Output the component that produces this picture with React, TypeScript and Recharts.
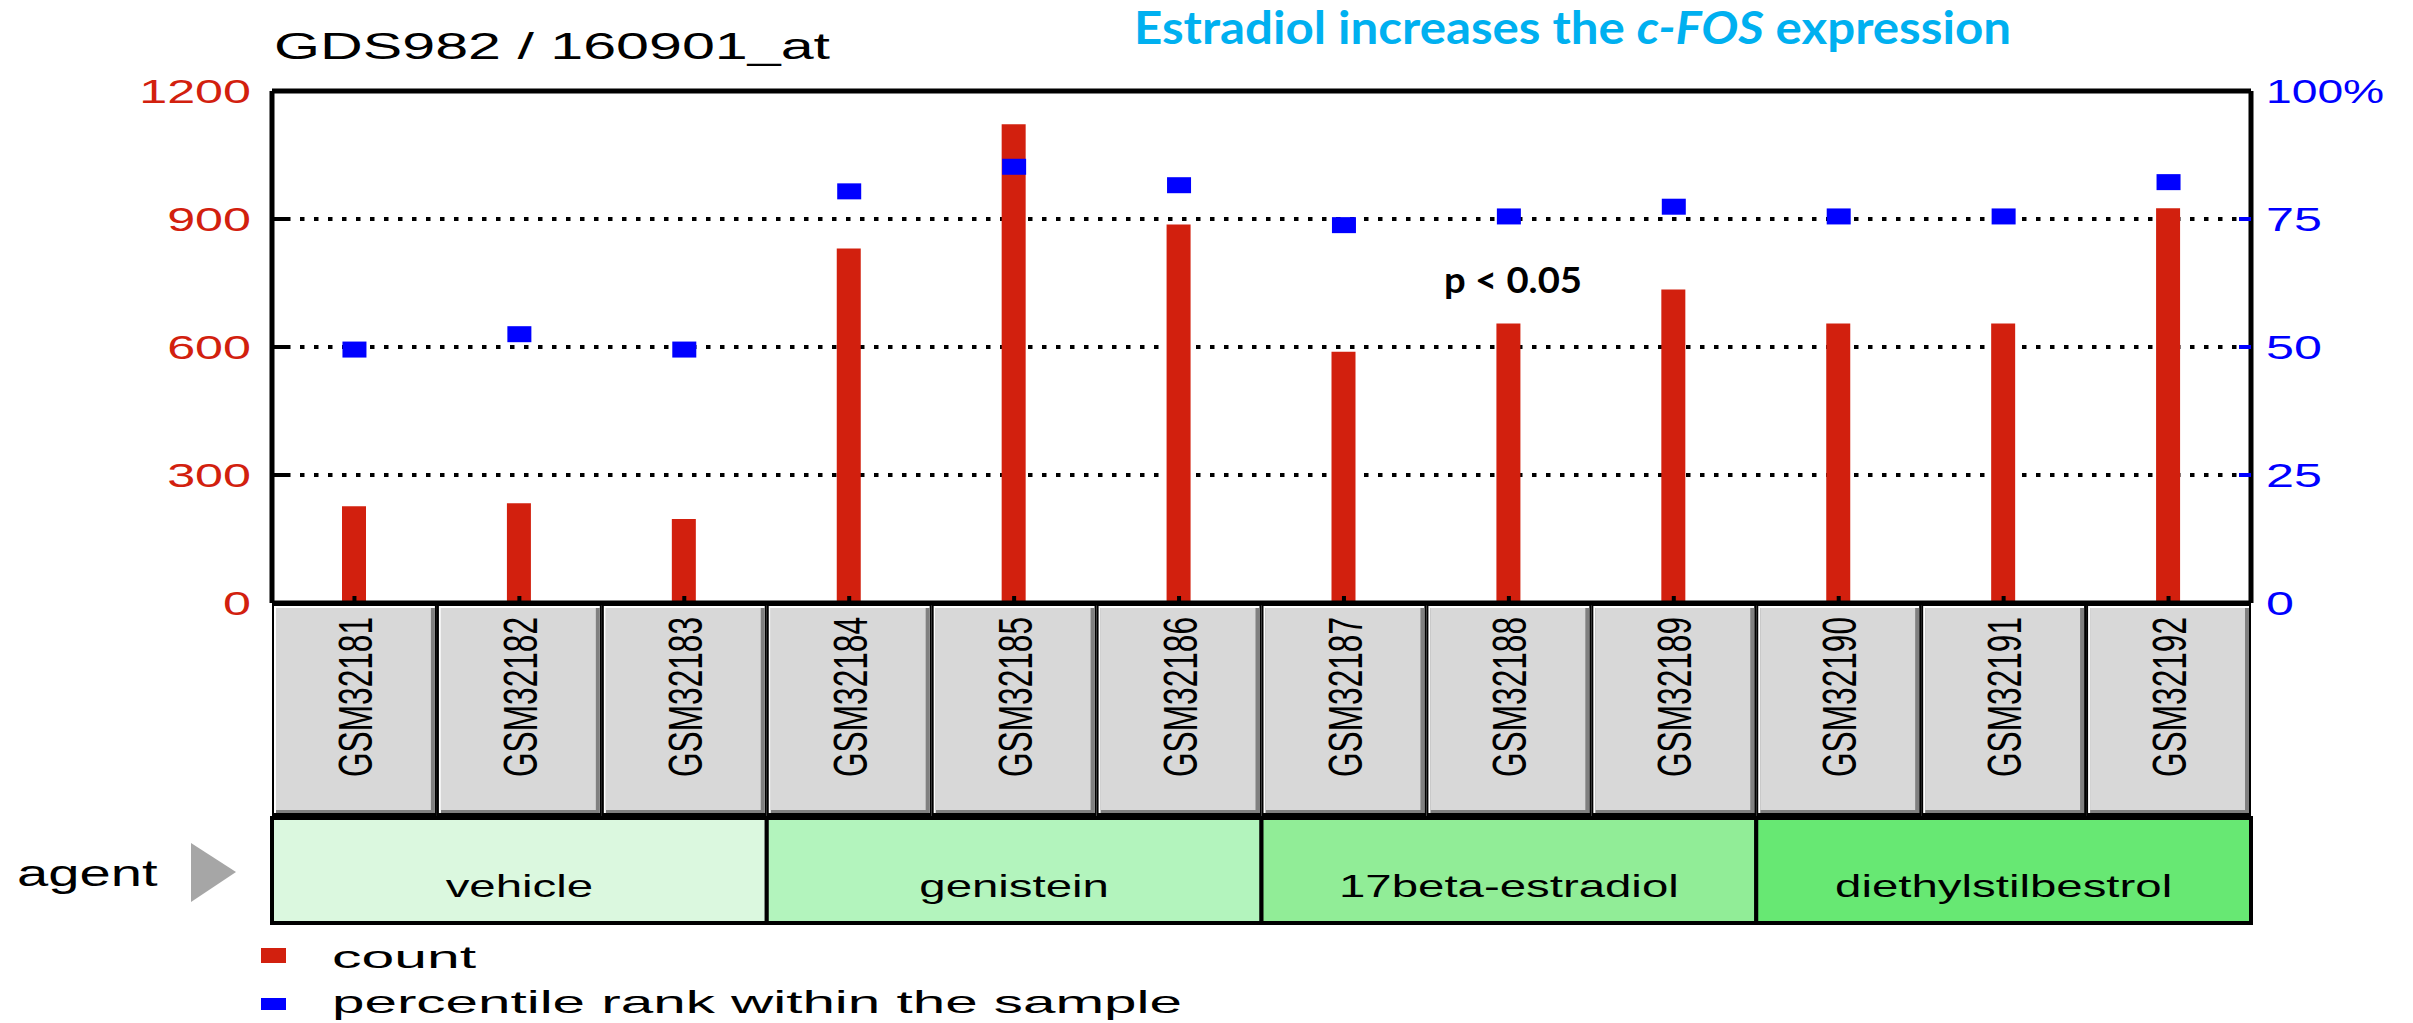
import React from 'react';
import { ComposedChart, Bar, Scatter, XAxis, YAxis, CartesianGrid, Legend, ReferenceLine } from 'recharts';

// ---------- data ----------
const samples = ['GSM32181', 'GSM32182', 'GSM32183', 'GSM32184', 'GSM32185', 'GSM32186', 'GSM32187', 'GSM32188', 'GSM32189', 'GSM32190', 'GSM32191', 'GSM32192'];
const agents = ['vehicle', 'vehicle', 'vehicle', 'genistein', 'genistein', 'genistein', '17beta-estradiol', '17beta-estradiol', '17beta-estradiol', 'diethylstilbestrol', 'diethylstilbestrol', 'diethylstilbestrol'];
const counts = [227, 234, 197, 831, 1122, 887, 589, 655, 735, 655, 655, 925];
const percentiles = [49.5, 52.5, 49.5, 80.4, 85.2, 81.6, 73.8, 75.5, 77.4, 75.5, 75.5, 82.2];
const countTicks = [0, 300, 600, 900, 1200];
const percentTicks = [0, 25, 50, 75, 100];
const agentNames = ['vehicle', 'genistein', '17beta-estradiol', 'diethylstilbestrol'];
const agentFills = ['#dbf8df', '#b3f4bd', '#91ed97', '#67e873'];
const chartTitle = 'GDS982 / 160901_at';
const headline = ['Estradiol increases the ', 'c-FOS', ' expression'];
const pNote = 'p < 0.05';
const agentLabel = 'agent';

const data = samples.map((sample, i) => ({
  sample,
  agent: agents[i],
  count: counts[i],
  percentile: percentiles[i],
}));

// ---------- style ----------
const W = 2413;
const H = 1023;
const RED = '#d2200e';
const BLUE = '#0000ff';
const PIX = '"Liberation Sans", Arial, sans-serif';
const SANS = 'Lato, "Open Sans", sans-serif';

function SText(props: any) {
  const { x, y, sx = 1.5, size, fill = '#000', anchor = 'start', rotate = false, dy, weight, family = PIX, length, children } = props;
  return (
    <text
      transform={`translate(${x},${y}) scale(${sx},1)${rotate ? ' rotate(-90)' : ''}`}
      x={0}
      y={0}
      dy={dy}
      textAnchor={anchor}
      fontSize={size}
      fill={fill}
      fontFamily={family}
      fontWeight={weight}
      textLength={length}
      lengthAdjust={length ? 'spacingAndGlyphs' : undefined}
    >
      {children}
    </text>
  );
}

const CountTick = (props: any) => {
  const { x, y, payload } = props;
  const v = payload.value;
  return (
    <g>
      {v > 0 && v < 1200 && <line x1={x} x2={x + 18} y1={y} y2={y} stroke="#000" strokeWidth={4} />}
      <SText x={x - 21} y={y} anchor="end" dy="0.36em" size={33.5} fill={RED}>
        {String(v)}
      </SText>
    </g>
  );
};

const PercentTick = (props: any) => {
  const { x, y, payload } = props;
  const v = payload.value;
  return (
    <g>
      {v > 0 && v < 100 && <line x1={x - 12} x2={x} y1={y} y2={y} stroke={BLUE} strokeWidth={4} />}
      <SText x={x + 15} y={y} anchor="start" dy="0.36em" size={33.5} fill={BLUE} sx={v === 100 ? 1.38 : 1.5}>
        {v === 100 ? '100%' : String(v)}
      </SText>
    </g>
  );
};

const SampleTick = (props: any) => {
  const { x, y, payload, width } = props;
  const band = payload && payload.offset > 0 ? payload.offset * 2 : width / samples.length;
  const h = 213;
  const l = x - band / 2;
  const t = y;
  return (
    <g>
      <rect x={l} y={t} width={band} height={h} fill="#000" />
      <rect x={l + 2} y={t + 3} width={band - 4} height={h - 6} fill="#fff" />
      <rect x={l + 4} y={t + 5} width={band - 6} height={h - 8} fill="#808080" />
      <rect x={l + 4} y={t + 5} width={band - 10} height={h - 11} fill="#d8d8d8" />
      <rect x={x - 2} y={t - 7} width={4} height={7} fill="#000" />
      <SText x={x} y={t + 174} rotate anchor="start" dy="0.36em" size={31.3} sx={1.56} length={160}>
        {payload.value}
      </SText>
    </g>
  );
};

const AgentTick = (props: any) => {
  const { x, y, payload, width } = props;
  const band = payload && payload.offset > 0 ? payload.offset * 2 : width / agentNames.length;
  const idx = agentNames.indexOf(payload.value);
  return (
    <g>
      <rect x={x - band / 2} y={y + 2} width={band} height={105} fill={agentFills[idx]} stroke="#000" strokeWidth={4} />
      <SText x={x} y={y + 81} anchor="middle" size={31.6} sx={1.5}>
        {payload.value}
      </SText>
    </g>
  );
};

const PercentSquare = (props: any) => {
  const { cx, cy } = props;
  return <rect x={cx - 12} y={cy - 8} width={24} height={16} fill={BLUE} />;
};

const legendLengths = [144, 850];

const renderLegend = (props: any) => {
  const payload = props.payload || [];
  return (
    <svg width={1300} height={98} style={{ display: 'block', overflow: 'visible' }}>
      {payload.map((e: any, i: number) => (
        <g key={i}>
          <rect x={261} y={i === 0 ? 23 : 73} width={25} height={i === 0 ? 15 : 12} fill={e.color} />
          <SText x={332} y={i === 0 ? 43 : 88} size={31.6} sx={1} length={legendLengths[i]}>
            {e.value}
          </SText>
        </g>
      ))}
    </svg>
  );
};

export default function App() {
  return (
    <div style={{ position: 'absolute', left: 0, top: 0, width: W, height: H, background: '#fff' }}>
      <ComposedChart
        width={W}
        height={H}
        data={data}
        margin={{ top: 91, right: 0, bottom: 98, left: 0 }}
      >
        <CartesianGrid
          yAxisId="count"
          vertical={false}
          stroke="#000"
          strokeWidth={4}
          strokeDasharray="4.5 9.5"
        />
        <XAxis
          dataKey="sample"
          interval={0}
          height={213}
          tickSize={0}
          tickMargin={0}
          tickLine={false}
          axisLine={{ stroke: '#000', strokeWidth: 5 }}
          tick={(p: any) => <SampleTick {...p} />}
        />
        <XAxis
          xAxisId="agent"
          dataKey="agent"
          allowDuplicatedCategory={false}
          interval={0}
          height={109}
          tickSize={0}
          tickMargin={0}
          tickLine={false}
          axisLine={false}
          tick={(p: any) => <AgentTick {...p} />}
        />
        <YAxis
          yAxisId="count"
          orientation="left"
          width={272}
          domain={[0, 1200]}
          ticks={countTicks}
          interval={0}
          tickSize={0}
          tickMargin={0}
          tickLine={false}
          axisLine={{ stroke: '#000', strokeWidth: 5 }}
          tick={(p: any) => <CountTick {...p} />}
        />
        <YAxis
          yAxisId="pct"
          orientation="right"
          width={162}
          domain={[0, 100]}
          ticks={percentTicks}
          interval={0}
          tickSize={0}
          tickMargin={0}
          tickLine={false}
          axisLine={{ stroke: '#000', strokeWidth: 5 }}
          tick={(p: any) => <PercentTick {...p} />}
        />
        <ReferenceLine yAxisId="count" y={1200} stroke="#000" strokeWidth={5} />
        <Bar
          yAxisId="count"
          dataKey="count"
          name="count"
          fill={RED}
          barSize={24}
          isAnimationActive={false}
        />
        <Scatter
          yAxisId="pct"
          dataKey="percentile"
          name="percentile rank within the sample"
          fill={BLUE}
          shape={(p: any) => <PercentSquare {...p} />}
          isAnimationActive={false}
        />
        <Legend
          layout="horizontal"
          verticalAlign="middle"
          align="center"
          content={renderLegend}
          wrapperStyle={{ position: 'absolute', left: 0, top: 925, width: 1300, height: 98 }}
        />
      </ComposedChart>
      <svg
        width={W}
        height={H}
        style={{ position: 'absolute', left: 0, top: 0, pointerEvents: 'none' }}
      >
        <SText x={274} y={59} size={37.7} sx={1.57}>
          {chartTitle}
        </SText>
        <text
          x={1134}
          y={44}
          fontSize={46}
          fontWeight={700}
          fill="#00b0f0"
          fontFamily={SANS}
          textLength={877}
          lengthAdjust="spacingAndGlyphs"
        >
          {headline[0]}
          <tspan fontStyle="italic">{headline[1]}</tspan>
          {headline[2]}
        </text>
        <text
          x={1444}
          y={293}
          fontSize={36}
          fontWeight={700}
          fill="#000"
          fontFamily={SANS}
          textLength={138}
          lengthAdjust="spacingAndGlyphs"
        >
          {pNote}
        </text>
        <SText x={17} y={886} size={36} sx={1.56}>
          {agentLabel}
        </SText>
        <polygon points="191,843 236,872 191,902" fill="#a6a6a6" />
      </svg>
    </div>
  );
}
